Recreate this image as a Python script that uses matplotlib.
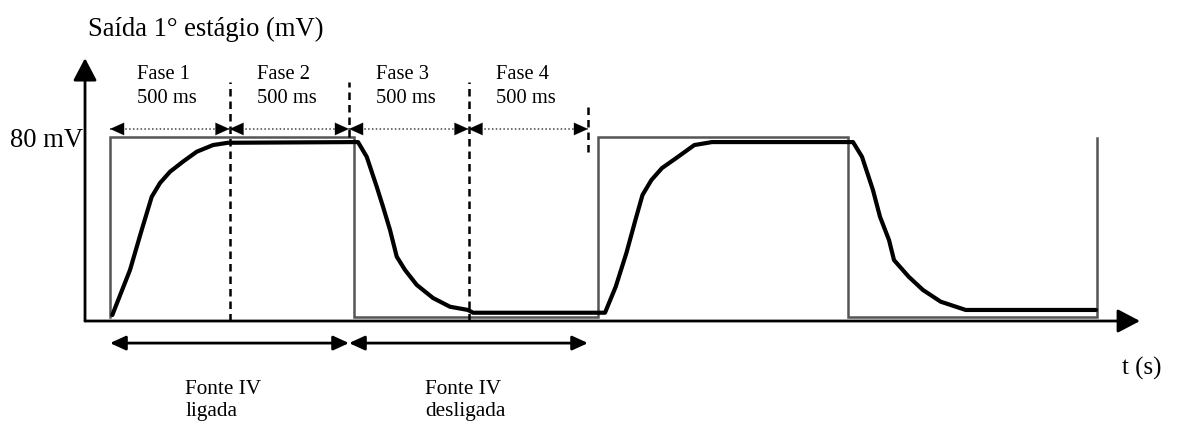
import matplotlib
matplotlib.use("Agg")
import matplotlib.pyplot as plt

plt.rcParams["font.family"] = ["Liberation Serif", "DejaVu Serif"]

# time in ms, voltage in mV
square_t = [0, 0, 1022, 1022, 2042, 2042, 3088, 3088, 4130, 4130]
square_v = [1.7, 80, 80, 1.7, 1.7, 80, 80, 1.7, 1.7, 79.6]

resp_t = [9.6, 83.7, 132.6, 174.5, 209.2, 251.0, 305.4, 362.8, 431.0, 493.7,
          1037.7, 1074.1, 1115.9, 1142.3, 1171.5, 1199.6, 1234.3, 1283.3, 1351.5,
          1422.6, 1497.9, 1518.8,
          2071.1, 2115.9, 2160.7, 2198.3, 2228.0, 2265.3, 2309.6, 2369.9, 2444.8,
          2518.8, 3108.8, 3146.4, 3192.1, 3221.8, 3259.4, 3280.3, 3341.4, 3401.3,
          3475.7, 3580.3, 4125.5]
resp_v = [2.6, 22.2, 39.6, 54.0, 60.0, 64.9, 69.3, 73.6, 76.5, 77.5,
          77.8, 71.4, 58.4, 49.7, 39.6, 28.0, 22.2, 15.7, 10.0,
          6.2, 4.8, 3.6,
          3.6, 14.9, 29.6, 43.9, 54.8, 61.3, 66.5, 70.9, 76.5,
          77.8, 77.8, 71.4, 57.0, 45.3, 35.2, 26.5, 19.3, 13.5,
          8.4, 4.8, 4.8]

phase_edges = [0, 500, 1000, 1500, 2000]
phase_names = ["Fase 1", "Fase 2", "Fase 3", "Fase 4"]
phase_len = ["500 ms"] * 4
# dashed marker lines: (t, v_top, v_bottom)
dash_t = [500, 1000, 1500, 2000]
dash_top = [104, 104, 104, 95]
dash_bot = [0, 80, 0, 73.5]

source_edges = [0, 1000, 2000]
source_labels = ["Fonte IV\nligada", "Fonte IV\ndesligada"]

fig = plt.figure(figsize=(11.77, 4.26), dpi=100)
ax = fig.add_axes([0, 0, 1, 1])
ax.set_xlim(-460.3, 4464.4)
ax.set_ylim(-45.65, 139.57)
ax.axis("off")

# axes with arrow heads
head = dict(arrowstyle="-|>,head_length=13.7,head_width=7.2", color="black",
            lw=2, shrinkA=0, shrinkB=0, mutation_scale=1)
ax.annotate("", xy=(-104.6, 114.3), xytext=(-104.6, 0), arrowprops=head)
ax.annotate("", xy=(4309.6, 0), xytext=(-104.6, 0), arrowprops=head)

# square wave and response
ax.plot(square_t, square_v, color="#555555", lw=1.8, solid_joinstyle="miter")
ax.plot(resp_t, resp_v, color="black", lw=3.0, solid_capstyle="round")

# phase dashed lines
for t, top, bot in zip(dash_t, dash_top, dash_bot):
    ax.plot([t, t], [bot, top], color="black", lw=1.8, linestyle=(0, (3, 2)))

# phase dotted arrows and labels
small = dict(arrowstyle="-|>,head_length=10,head_width=4.5", color="black",
             lw=0.1, shrinkA=0, shrinkB=0, mutation_scale=1)
for i in range(len(phase_names)):
    a, b = phase_edges[i], phase_edges[i + 1]
    ax.plot([a, b], [83.5, 83.5], color="#444444", lw=1.1, linestyle=(0, (1, 1.5)))
    ax.annotate("", xy=(a, 83.5), xytext=(a + 60, 83.5), arrowprops=small)
    ax.annotate("", xy=(b, 83.5), xytext=(b - 60, 83.5), arrowprops=small)
    ax.text(a + 115, 105.1, phase_names[i], fontsize=14.8, va="baseline", ha="left")
    ax.text(a + 115, 94.9, phase_len[i], fontsize=14.8, va="baseline", ha="left")

# source on/off arrows
both = dict(arrowstyle="<|-|>,head_length=9.4,head_width=4.3", color="black",
            lw=2, shrinkA=0, shrinkB=0, mutation_scale=1)
for i in range(len(source_labels)):
    a, b = source_edges[i], source_edges[i + 1]
    ax.annotate("", xy=(b, -9.6), xytext=(a, -9.6), arrowprops=both)
label_x = [314, 1318]
for x, lab in zip(label_x, source_labels):
    ax.text(x, -41.2, lab, fontsize=15.3, va="baseline", ha="left", linespacing=1.22)

ax.text(-92, 123.9, "Saída 1° estágio (mV)", fontsize=19.2, va="baseline", ha="left")
ax.text(-418, 75.7, "80 mV", fontsize=19.2, va="baseline", ha="left")
ax.text(4234, -23.5, "t (s)", fontsize=18, va="baseline", ha="left")

fig.savefig("out.png", dpi=100)
